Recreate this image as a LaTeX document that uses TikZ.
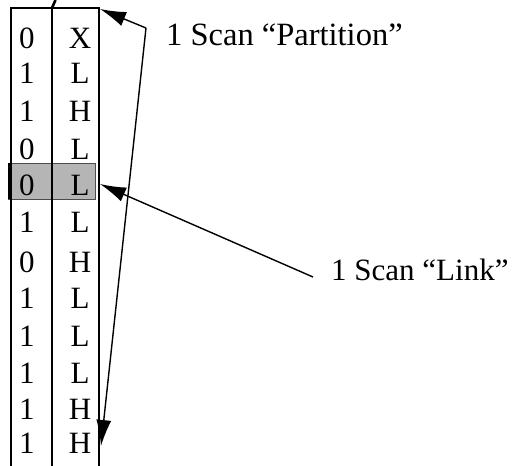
\documentclass[tikz,border=0pt]{standalone}
\usepackage{fontspec}
\setmainfont{Liberation Serif}
\usetikzlibrary{arrows.meta}
\begin{document}
\begin{tikzpicture}[x=1pt,y=-1pt,
  cell/.style={inner sep=0pt,font=\fontsize{31}{36}\selectfont,anchor=base},
  lbl/.style={inner sep=0pt,font=\fontsize{32.5}{38}\selectfont,anchor=base west},
  colline/.style={line width=2.4pt},
  arr/.style={line width=1.4pt,-{Latex[length=26pt,width=15pt]}}]
\useasboundingbox (0,0) rectangle (515,466);
% highlight
\node[draw=black!70,line width=0.8pt,fill=black!29,minimum width=87pt,minimum height=36pt,inner sep=0pt,anchor=north west] (hl) at (8,163) {};
\draw[line width=3pt] (9.5,163) -- (9.5,199);
% column lines
\coordinate (tl) at (11,8);
\coordinate (tm) at (52,8);
\coordinate (tr) at (99,8);
\coordinate (bl) at (11,466);
\coordinate (bm) at (52,466);
\coordinate (br) at (99,466);
\draw[colline] (bl) -- (tl) -- (tr) -- (br);
\draw[colline] (tm) -- (bm);
\draw[line width=2.6pt] (tm) .. controls (53,4) .. (55.5,0);
% cells
\foreach \i/\b/\l/\y in {1/0/X/48,2/1/L/83,3/1/H/121,4/0/L/159,5/0/L/195,6/1/L/232,7/0/H/272,8/1/L/308,9/1/L/346,10/1/L/383,11/1/H/419,12/1/H/453}{
  \node[cell] (b\i) at (27,\y) {\b};
  \node[cell] (l\i) at (80,\y) {\l};
}
% labels
\node[lbl] (part) at (166,45) {1 Scan “Partition”};
\node[lbl,font=\fontsize{31}{36}\selectfont] (link) at (331,280) {1 Scan “Link”};
\coordinate (ps) at (146,28);
\coordinate (ls) at (313,277);
\coordinate (pt1) at (100,9);
\coordinate (pt2) at (101,446);
\coordinate (lt) at (100,184);
\draw[arr] (ps) -- (pt1);
\draw[arr] (ps) -- (pt2);
\draw[arr] (ls) -- (lt);
\end{tikzpicture}
\end{document}
